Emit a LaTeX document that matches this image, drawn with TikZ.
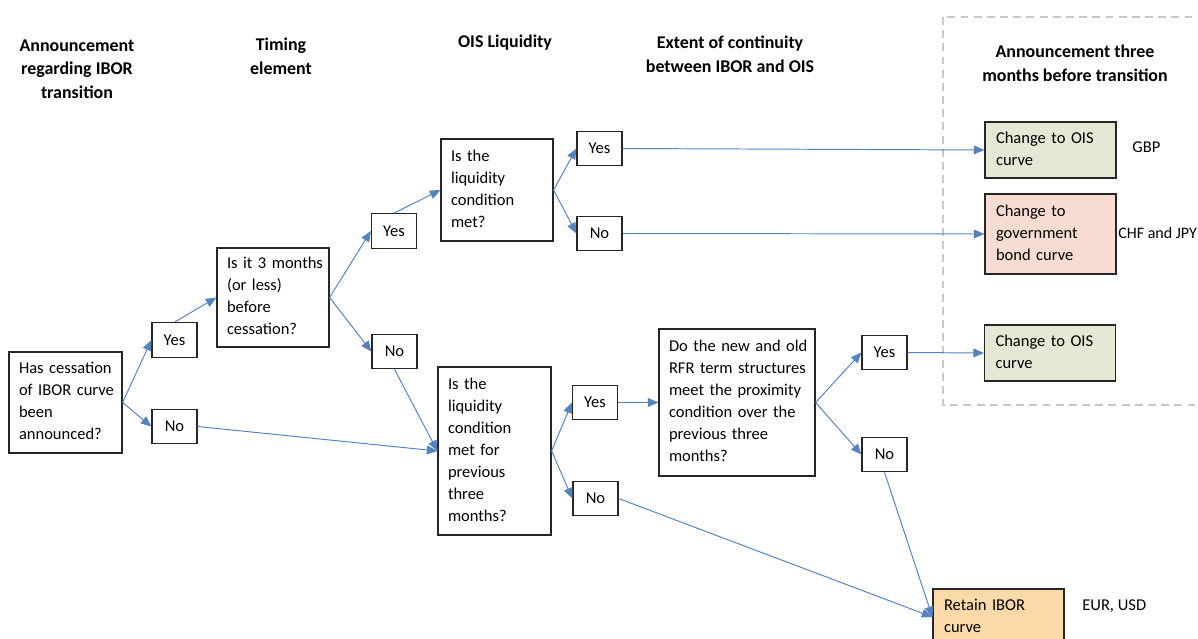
\documentclass[tikz,border=0pt]{standalone}
\usepackage{fontspec}
\setmainfont{Carlito}
\usetikzlibrary{arrows.meta}

\definecolor{flowBlue}{RGB}{84,130,190}
\definecolor{oisGreen}{RGB}{228,232,212}
\definecolor{govPink}{RGB}{249,220,209}
\definecolor{iborOrange}{RGB}{252,217,168}
\definecolor{frameGrey}{RGB}{200,200,200}

% lines of a box, kept as typed
\newcommand{\boxlines}[1]{\begin{tabular}{@{}l@{}}#1\end{tabular}}

\begin{document}
\begin{tikzpicture}[x=0.02cm, y=-0.02cm,
   font=\fontsize{9.4}{12.5}\selectfont,
   qbox/.style={draw=black!85, line width=0.7pt, align=left, inner xsep=0.2cm,
                inner ysep=0pt},
   answer/.style={draw=black!85, line width=0.7pt, minimum width=0.9cm,
                  minimum height=0.69cm, inner sep=0pt},
   result/.style={qbox, minimum width=2.62cm, text width=2.18cm},
   head/.style={align=center, font=\fontsize{10.2}{13.5}\selectfont\bfseries},
   ccy/.style={anchor=west, inner sep=0pt},
   flow/.style={draw=flowBlue, line width=0.55pt,
                -{Triangle[length=6pt,width=5pt]}}]

  \useasboundingbox (0,0) rectangle (1198,639);

  % ===== column headings =====
  \node[head] (hAnn)   at (77,69)    {Announcement\\regarding IBOR\\transition};
  \node[head] (hTime)  at (281,56)   {Timing\\element};
  \node[head] (hLiq)   at (505,43)   {OIS Liquidity};
  \node[head] (hCont)  at (730,54)   {Extent of continuity\\between IBOR and OIS};
  \node[head] (hThree) at (1075,63.5) {Announcement three\\months before transition};

  % dashed frame round the outcomes
  \draw[frameGrey, line width=1.7pt, dash pattern=on 4.5pt off 3pt]
        (943,17) rectangle (1220,405);

  % ===== questions =====
  \node[qbox, minimum width=2.26cm, minimum height=2.02cm, text width=1.86cm]
        (q1) at (65.5,402.5) {\boxlines{Has cessation\\of IBOR curve\\been\\announced?}};
  \node[qbox, minimum width=2.24cm, minimum height=1.98cm, text width=1.84cm]
        (q2) at (273,297.5) {\boxlines{Is it 3 months\\(or less)\\before\\cessation?}};
  \node[qbox, minimum width=2.24cm, minimum height=2.04cm, text width=1.84cm]
        (q3) at (497,190) {\boxlines{Is the\\liquidity\\condition\\met?}};
  \node[qbox, minimum width=2.26cm, minimum height=3.36cm, text width=1.86cm]
        (q4) at (494.5,451) {\boxlines{Is the\\liquidity\\condition\\met for\\previous\\three\\months?}};
  \node[qbox, minimum width=3.12cm, minimum height=2.94cm, text width=2.72cm]
        (q5) at (737,402.5) {\boxlines{Do the new and old\\RFR term structures\\meet the proximity\\condition over the\\previous three\\months?}};

  % ===== yes / no =====
  \node[answer] (yes1) at (174.5,340)   {Yes};
  \node[answer] (no1)  at (174.5,426.5) {No};
  \node[answer] (yes2) at (394,231)     {Yes};
  \node[answer] (no2)  at (394.5,351.5) {No};
  \node[answer] (yes3) at (599.5,148.5) {Yes};
  \node[answer] (no3)  at (599.5,233.5) {No};
  \node[answer] (yes5) at (595,402.5)   {Yes};
  \node[answer] (no5)  at (595.5,498.5) {No};
  \node[answer] (yes4) at (884.5,352.5) {Yes};
  \node[answer] (no4)  at (884.5,454.5) {No};

  % ===== outcomes =====
  \node[result, fill=oisGreen, minimum height=1.12cm]
        (ois1) at (1050.5,150) {\boxlines{Change to OIS\\curve}};
  \node[result, fill=govPink, minimum height=1.6cm]
        (gov) at (1050.5,234) {\boxlines{Change to\\government\\bond curve}};
  \node[result, fill=oisGreen, minimum height=1.12cm]
        (ois2) at (1050,353) {\boxlines{Change to OIS\\curve}};
  \node[result, fill=iborOrange, minimum height=1.12cm]
        (retain) at (998.5,617) {\boxlines{Retain IBOR\\curve}};

  \node[ccy] (gbp) at (1132,147) {GBP};
  \node[ccy, font=\fontsize{9.1}{12.5}\selectfont] (chf) at (1118,233) {CHF and JPY};
  \node[ccy] (eur) at (1082,606) {EUR, USD};

  % ===== connectors =====
  \draw[flow] (q1.east) -- (yes1.west);
  \draw[flow] (q1.east) -- (no1.west);
  \draw[flow] (yes1.north) -- (q2.west);
  \draw[flow] (no1.east) -- (q4.west);
  \draw[flow] (q2.east) -- (yes2.west);
  \draw[flow] (q2.east) -- (no2.west);
  \draw[flow] (yes2.north) -- (q3.west);
  \draw[flow] (no2.south) -- (q4.west);
  \draw[flow] (q3.east) -- (yes3.west);
  \draw[flow] (q3.east) -- (no3.west);
  \draw[flow] (yes3.east) -- (ois1.west);
  \draw[flow] (no3.east) -- (gov.west);
  \draw[flow] (q4.east) -- (yes5.west);
  \draw[flow] (q4.east) -- (no5.west);
  \draw[flow] (yes5.east) -- (q5.west);
  \draw[flow] (no5.east) -- (retain.west);
  \draw[flow] (q5.east) -- (yes4.west);
  \draw[flow] (q5.east) -- (no4.west);
  \draw[flow] (yes4.east) -- (ois2.west);
  \draw[flow] (no4.south) -- (retain.west);

\end{tikzpicture}
\end{document}
